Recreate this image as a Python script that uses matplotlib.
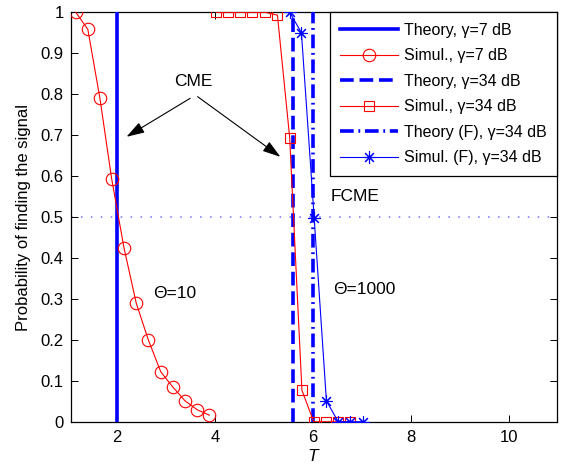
import matplotlib
matplotlib.use("Agg")
import matplotlib.pyplot as plt

plt.rcParams['font.family'] = ['Liberation Sans', 'DejaVu Sans']
plt.rcParams['mathtext.fontset'] = 'custom'
plt.rcParams['mathtext.it'] = 'Liberation Sans:italic'
plt.rcParams['mathtext.rm'] = 'Liberation Sans'

# Data
T_sim7 = [1.155, 1.40, 1.646, 1.885, 2.137, 2.389, 2.634, 2.888, 3.133, 3.384, 3.636, 3.881]
P_sim7 = [1.0, 0.958, 0.790, 0.594, 0.425, 0.289, 0.200, 0.122, 0.085, 0.051, 0.029, 0.016]

T_sim34 = [4.02, 4.27, 4.51, 4.76, 5.02, 5.27, 5.52, 5.77, 6.01, 6.26, 6.51, 6.76]
P_sim34 = [1.0, 1.0, 1.0, 1.0, 1.0, 0.993, 0.694, 0.077, 0.0, 0.0, 0.0, 0.0]

T_simF = [5.52, 5.76, 6.02, 6.27, 6.51, 6.76, 7.01]
P_simF = [1.0, 0.95, 0.498, 0.051, 0.0, 0.0, 0.0]

T_theory7 = 2.0
T_theory34 = 5.58
T_theoryF = 6.0
P_half = 0.5

yticks = [0, 0.1, 0.2, 0.3, 0.4, 0.5, 0.6, 0.7, 0.8, 0.9, 1]
ytick_labels = ['0', '0.1', '0.2', '0.3', '0.4', '0.5', '0.6', '0.7', '0.8', '0.9', '1']
xticks = [2, 4, 6, 8, 10]

fig = plt.figure(figsize=(5.68, 4.66), dpi=100)
ax = fig.add_axes([0.1245, 0.095, 0.980 - 0.1245, 0.9736 - 0.095])

ax.axhline(P_half, color='#7070ff', lw=1.1, ls=(0, (1, 5.5)), zorder=1)

ax.plot([T_theory7, T_theory7], [0, 1], color='#0000ff', lw=2.6, label='Theory, γ=7 dB', zorder=3)
ax.plot(T_sim7, P_sim7, color='#ff0000', lw=0.8, marker='o', ms=9, mfc='none', mec='#ff0000',
        mew=0.8, label='Simul., γ=7 dB', zorder=4)
ax.plot([T_theory34, T_theory34], [0, 1], color='#0000ff', lw=2.6, ls=(0, (3.8, 1.6)),
        label='Theory, γ=34 dB', zorder=3)
ax.plot(T_sim34, P_sim34, color='#ff0000', lw=0.8, marker='s', ms=7, mfc='none', mec='#ff0000',
        mew=0.8, label='Simul., γ=34 dB', zorder=4)
ax.plot([T_theoryF, T_theoryF], [0, 1], color='#0000ff', lw=2.6, ls=(0, (3.8, 1.3, 0.5, 1.3)),
        label='Theory (F), γ=34 dB', zorder=3)
ax.plot(T_simF, P_simF, color='#0000ff', lw=0.8, marker=(8, 2, 0), ms=9, mfc='none', mec='#0000ff',
        mew=0.8, label='Simul. (F), γ=34 dB', zorder=4)

ax.set_xlim(1.05, 10.97)
ax.set_ylim(0, 1)
ax.set_xticks(xticks)
ax.set_xticklabels([str(t) for t in xticks])
ax.set_yticks(yticks)
ax.set_yticklabels(ytick_labels)
ax.tick_params(direction='in', top=True, right=True, length=5, width=0.7, labelsize=12)
ax.tick_params(axis='x', pad=6)
ax.tick_params(axis='y', pad=5)
for s in ax.spines.values():
    s.set_linewidth(0.9)

ax.set_xlabel('$T$', fontsize=12.5, labelpad=2)
ax.set_ylabel('Probability of finding the signal', fontsize=12, labelpad=7)

# Annotations
ax.text(3.55, 0.83, 'CME', fontsize=12.5, ha='center', va='center')
ap = dict(arrowstyle='-|>,head_length=1.1,head_width=0.35', color='black', lw=0.8,
          shrinkA=0, shrinkB=0)
ax.annotate('', xy=(2.19, 0.696), xytext=(3.49, 0.79), arrowprops=ap)
ax.annotate('', xy=(5.33, 0.647), xytext=(3.64, 0.794), arrowprops=ap)
ax.text(6.36, 0.55, 'FCME', fontsize=12.5, ha='left', va='center')
ax.text(2.74, 0.314, 'Θ=10', fontsize=12.5, ha='left', va='center')
ax.text(6.40, 0.322, 'Θ=1000', fontsize=12.5, ha='left', va='center')

leg = ax.legend(loc='upper right', borderaxespad=0, fontsize=11.5, handlelength=3.6,
                handletextpad=0.35, labelspacing=0.66, borderpad=0.65, fancybox=False,
                framealpha=1, edgecolor='black')
leg.get_frame().set_linewidth(0.9)

fig.savefig('out.png', dpi=100)
